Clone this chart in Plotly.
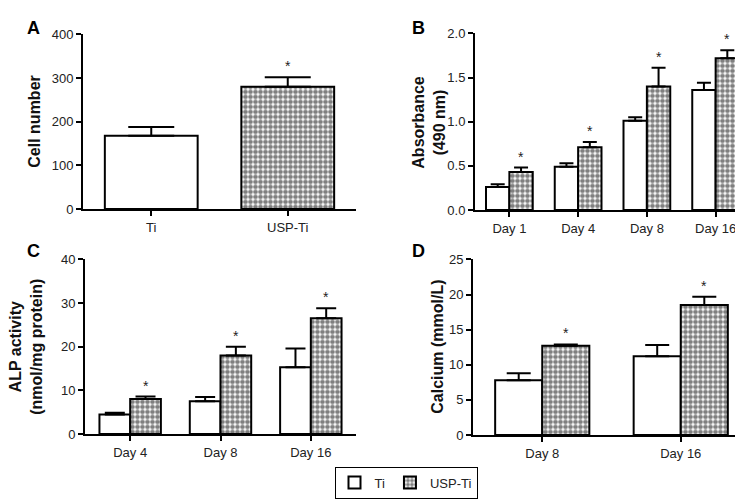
import plotly.graph_objects as go

W, H = 743, 500

# ---------------- data ----------------
a_cats = ["Ti", "USP-Ti"]
a_vals = [168, 280]
a_errs = [20, 22]
a_sig = [False, True]

b_cats = ["Day 1", "Day 4", "Day 8", "Day 16"]
b_ti = [0.26, 0.49, 1.01, 1.36]
b_ti_err = [0.03, 0.04, 0.04, 0.08]
b_usp = [0.43, 0.71, 1.40, 1.72]
b_usp_err = [0.05, 0.06, 0.21, 0.09]

c_cats = ["Day 4", "Day 8", "Day 16"]
c_ti = [4.5, 7.5, 15.3]
c_ti_err = [0.4, 1.0, 4.3]
c_usp = [8.0, 18.0, 26.5]
c_usp_err = [0.6, 2.0, 2.3]

d_cats = ["Day 8", "Day 16"]
d_ti = [7.8, 11.2]
d_ti_err = [1.0, 1.6]
d_usp = [12.7, 18.5]
d_usp_err = [0.2, 1.2]

FONT = "Liberation Sans, Arial, sans-serif"
TICKCOL = "#222222"

PAT = dict(shape=".", fgcolor="black", bgcolor="white", size=5, solidity=0.68)

def px2x(p):
    return p / W

def px2y(p):
    return 1 - p / H

panels = {
    "A": dict(xd=[px2x(75), px2x(348)], yd=[px2y(200), px2y(20)], yr=[0, 400], dt=100, fmt=None, xr=[-0.5, 1.5]),
    "B": dict(xd=[px2x(467), px2x(742)], yd=[px2y(201), px2y(19)], yr=[0, 2.0], dt=0.5, fmt=".1f", xr=[-0.5, 3.5]),
    "C": dict(xd=[px2x(77), px2x(348)], yd=[px2y(432), px2y(252)], yr=[0, 40], dt=10, fmt=None, xr=[-0.5, 2.5]),
    "D": dict(xd=[px2x(465), px2x(742)], yd=[px2y(433), px2y(252)], yr=[0, 25], dt=5, fmt=None, xr=[-0.5, 1.5]),
}
axis_ids = {"A": ("x", "y"), "B": ("x2", "y2"), "C": ("x3", "y3"), "D": ("x4", "y4")}

fig = go.Figure()

def errspec(arr, half):
    return dict(type="data", symmetric=False, array=arr, arrayminus=[0] * len(arr),
                color="black", thickness=2, width=half)

# Panel A : one trace, per-bar pattern
fig.add_trace(go.Bar(
    x=a_cats, y=a_vals, xaxis="x", yaxis="y", showlegend=False,
    marker=dict(color="white", line=dict(color="black", width=2),
                pattern=dict(shape=["", PAT["shape"]], fgcolor="black", bgcolor="white",
                             size=PAT["size"], solidity=PAT["solidity"])),
    error_y=errspec(a_errs, 23),
))

def add_group(cats, ti, ti_err, usp, usp_err, xa, ya, half, legend):
    fig.add_trace(go.Bar(
        x=cats, y=ti, name="Ti", xaxis=xa, yaxis=ya, showlegend=legend, legendgroup="Ti",
        marker=dict(color="white", line=dict(color="black", width=2)),
        error_y=errspec(ti_err, half),
    ))
    fig.add_trace(go.Bar(
        x=cats, y=usp, name="USP-Ti", xaxis=xa, yaxis=ya, showlegend=legend, legendgroup="USP",
        marker=dict(color="white", line=dict(color="black", width=2), pattern=PAT),
        error_y=errspec(usp_err, half),
    ))

add_group(b_cats, b_ti, b_ti_err, b_usp, b_usp_err, "x2", "y2", 7, True)
add_group(c_cats, c_ti, c_ti_err, c_usp, c_usp_err, "x3", "y3", 10, False)
add_group(d_cats, d_ti, d_ti_err, d_usp, d_usp_err, "x4", "y4", 12, False)

layout = dict(
    width=W, height=H, margin=dict(l=0, r=0, t=0, b=0),
    paper_bgcolor="white", plot_bgcolor="white",
    barmode="group", bargap=0.32, bargroupgap=0,
    font=dict(family=FONT, size=13, color=TICKCOL),
    legend=dict(orientation="h", x=px2x(398), y=px2y(482), xanchor="center", yanchor="middle",
                bordercolor="black", borderwidth=1, font=dict(size=13, color=TICKCOL),
                itemwidth=30, tracegroupgap=0, bgcolor="white"),
)

for key, p in panels.items():
    xa, ya = axis_ids[key]
    xname = "xaxis" if xa == "x" else "xaxis" + xa[1:]
    yname = "yaxis" if ya == "y" else "yaxis" + ya[1:]
    layout[xname] = dict(domain=p["xd"], anchor=ya, showline=True, linecolor="black", linewidth=2,
                         ticks="outside", ticklen=5, tickwidth=1.5, tickcolor="black",
                         showgrid=False, zeroline=False, range=p["xr"],
                         tickfont=dict(size=13, color=TICKCOL), fixedrange=True)
    layout[yname] = dict(domain=p["yd"], anchor=xa, showline=True, linecolor="black", linewidth=2,
                         ticks="outside", ticklen=5, tickwidth=1.5, tickcolor="black",
                         showgrid=False, zeroline=False, range=p["yr"], dtick=p["dt"], tick0=0,
                         tickformat=p["fmt"], tickfont=dict(size=13, color=TICKCOL), fixedrange=True)

fig.update_layout(**layout)

annotations = []

# panel letters
for letter, (lx, ly) in {"A": (17, 1), "B": (402, 1), "C": (17, 231), "D": (402, 231)}.items():
    annotations.append(dict(text="<b>%s</b>" % letter, x=px2x(lx), y=px2y(ly), xref="paper", yref="paper",
                            xanchor="left", yanchor="top", showarrow=False,
                            font=dict(family=FONT, size=18, color="black")))

# y-axis titles
ytitles = [
    ("<b>Cell number</b>", 27, 110),
    ("<b>Absorbance<br>(490 nm)</b>", 421, 110),
    ("<b>ALP activity<br>(nmol/mg protein)</b>", 18, 342),
    ("<b>Calcium (mmol/L)</b>", 430, 342),
]
for t, tx, ty in ytitles:
    annotations.append(dict(text=t, x=px2x(tx), y=px2y(ty), xref="paper", yref="paper",
                            xanchor="center", yanchor="middle", textangle=-90, showarrow=False,
                            font=dict(family=FONT, size=16, color="#111111")))

# significance stars
def stars(cats, vals, errs, xa, ya, key, shift_units):
    p = panels[key]
    xr = p["xr"]
    ppu = (p["xd"][1] - p["xd"][0]) * W / (xr[1] - xr[0])
    for c, v, e in zip(cats, vals, errs):
        annotations.append(dict(text="*", x=c, y=v + e, xref=xa, yref=ya, xshift=shift_units * ppu,
                                yshift=1, xanchor="center", yanchor="bottom", showarrow=False,
                                font=dict(family=FONT, size=14, color=TICKCOL)))

stars([c for c, s in zip(a_cats, a_sig) if s], [v for v, s in zip(a_vals, a_sig) if s],
      [e for e, s in zip(a_errs, a_sig) if s], "x", "y", "A", 0)
stars(b_cats, b_usp, b_usp_err, "x2", "y2", "B", 0.17)
stars(c_cats, c_usp, c_usp_err, "x3", "y3", "C", 0.17)
stars(d_cats, d_usp, d_usp_err, "x4", "y4", "D", 0.17)

fig.update_layout(annotations=annotations)

fig.write_html("out.html")
